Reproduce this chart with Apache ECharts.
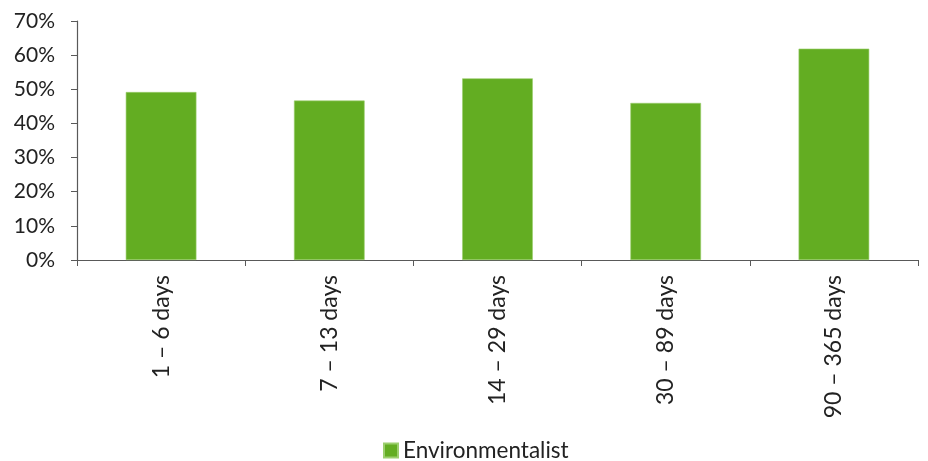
<!DOCTYPE html>
<html><head><meta charset="utf-8">
<script src="https://cdn.jsdelivr.net/npm/echarts@6/dist/echarts.min.js"></script>
<style>html,body{margin:0;padding:0;background:#fff}#c{width:928px;height:461px}</style>
</head><body><div id="c"></div>
<script>
const categories = ['1 – 6 days', '7 – 13 days', '14 – 29 days', '30 – 89 days', '90 – 365 days'];
const seriesName = 'Environmentalist';
const values = [0.492, 0.467, 0.532, 0.460, 0.619];
const yTicks = [0, 0.1, 0.2, 0.3, 0.4, 0.5, 0.6, 0.7];

const font = 'Lato, "Open Sans", sans-serif';
const chart = echarts.init(document.getElementById('c'), null, {renderer: 'canvas'});
chart.setOption({
  animation: false,
  grid: {left: 77, right: 10, top: 21, bottom: 201, containLabel: false},
  legend: {
    data: [seriesName], top: 434, left: 378,
    icon: 'rect', itemWidth: 14, itemHeight: 14, itemGap: 6,
    textStyle: {fontFamily: font, fontSize: 22.5, color: '#222'}
  },
  xAxis: {
    type: 'category', data: categories,
    axisLine: {lineStyle: {color: '#595959', width: 1.2}},
    axisTick: {show: true, alignWithLabel: false, length: 6, lineStyle: {color: '#595959'}},
    axisLabel: {rotate: 90, margin: 15, fontFamily: font, fontSize: 23, color: '#222'}
  },
  yAxis: {
    type: 'value', min: 0, max: yTicks[yTicks.length - 1], interval: 0.1,
    splitLine: {show: false},
    axisLine: {show: true, lineStyle: {color: '#595959', width: 1.2}},
    axisTick: {show: true, length: 6, lineStyle: {color: '#595959'}},
    axisLabel: {margin: 22, fontFamily: font, fontSize: 21, color: '#222',
      formatter: v => Math.round(v * 100) + '%'}
  },
  series: [{
    name: seriesName, type: 'bar', data: values, barWidth: '42%',
    itemStyle: {color: '#63AD22', borderColor: '#9ccf6e', borderWidth: 0.6}
  }]
});
</script></body></html>
